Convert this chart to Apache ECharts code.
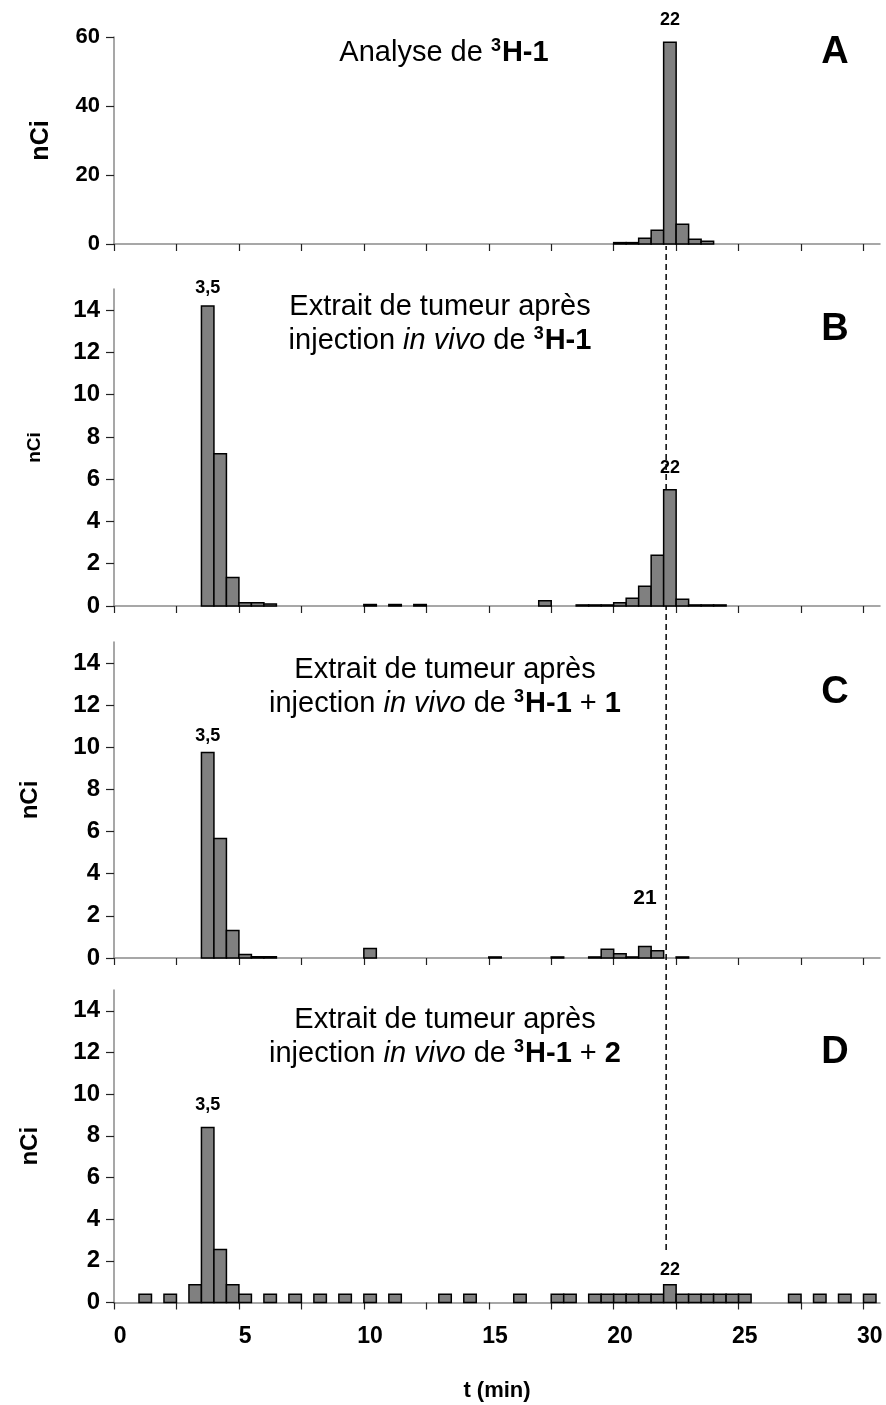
<!DOCTYPE html>
<html>
<head>
<meta charset="utf-8">
<script src="https://cdn.jsdelivr.net/npm/echarts@6/dist/echarts.min.js"></script>
<style>
  html, body { margin: 0; padding: 0; background: #fff; }
  #main { width: 886px; height: 1405px; }
</style>
</head>
<body>
<div id="main"></div>
<script>
// fractions de 0,5 min : chaque barre va de t a t + 0,5
var binWidth = 0.5;

// A : analyse de 3H-1
var timesA = [20, 20.5, 21, 21.5, 22, 22.5, 23, 23.5];
var valuesA = [0.4, 0.4, 1.7, 4.0, 58.5, 5.7, 1.4, 0.8];

// B : extrait de tumeur, 3H-1
var timesB = [3.5, 4, 4.5, 5, 5.5, 6, 10, 11, 12, 17, 18.5, 19, 19.5, 20, 20.5, 21, 21.5, 22, 22.5, 23, 23.5, 24];
var valuesB = [14.2, 7.2, 1.35, 0.15, 0.15, 0.1, 0.07, 0.07, 0.07, 0.25, 0.05, 0.05, 0.05, 0.15, 0.37, 0.94, 2.4, 5.5, 0.32, 0.05, 0.05, 0.05];

// C : extrait de tumeur, 3H-1 + 1
var timesC = [3.5, 4, 4.5, 5, 5.5, 6, 10, 15, 17.5, 19, 19.5, 20, 20.5, 21, 21.5, 22.5];
var valuesC = [9.75, 5.67, 1.31, 0.17, 0.06, 0.06, 0.45, 0.05, 0.05, 0.05, 0.41, 0.2, 0.05, 0.54, 0.35, 0.05];

// D : extrait de tumeur, 3H-1 + 2
var timesD = [1, 2, 3, 3.5, 4, 4.5, 5, 6, 7, 8, 9, 10, 11, 13, 14, 16, 17.5, 18, 19, 19.5, 20, 20.5, 21, 21.5, 22, 22.5, 23, 23.5, 24, 24.5, 25, 27, 28, 29, 30];
var valuesD = [0.4, 0.4, 0.85, 8.4, 2.55, 0.85, 0.4, 0.4, 0.4, 0.4, 0.4, 0.4, 0.4, 0.4, 0.4, 0.4, 0.4, 0.4, 0.4, 0.4, 0.4, 0.4, 0.4, 0.4, 0.85, 0.4, 0.4, 0.4, 0.4, 0.4, 0.4, 0.4, 0.4, 0.4, 0.4];

// pics annotes
var peaksA = [[22, '22']];
var peaksB = [[3.5, '3,5'], [22, '22']];
var peaksC = [[3.5, '3,5'], [21, '21']];
var peaksD = [[3.5, '3,5'], [22, '22']];

// axes
var xTicks = [0, 2.5, 5, 7.5, 10, 12.5, 15, 17.5, 20, 22.5, 25, 27.5, 30];
var xTickLabels = [0, 5, 10, 15, 20, 25, 30];
var yTicksA = [0, 20, 40, 60];
var yTicksBCD = [0, 2, 4, 6, 8, 10, 12, 14];
var refLineTime = 22.1;

var FONT = '"Liberation Sans", Arial, sans-serif';
var xMax = 30.66;

function pairs(times, values) {
	return times.map(function (t, i) { return [t, values[i]]; });
}

function renderBar(params, api) {
	var t = api.value(0), v = api.value(1);
	var p0 = api.coord([t, v]);
	var p1 = api.coord([t + binWidth, 0]);
	return {
		type: 'rect',
		shape: { x: p0[0], y: p0[1], width: p1[0] - p0[0], height: p1[1] - p0[1] },
		style: { fill: '#808080', stroke: '#000', lineWidth: 1.5 }
	};
}

// etiquette au-dessus du pic : gap (px) et taille par etiquette
function peakSeries(idx, peaks, times, values, gaps, sizes) {
	return {
		type: 'custom', xAxisIndex: idx, yAxisIndex: idx, silent: true, z: 5, clip: false,
		encode: { x: 0, y: 1 },
		data: peaks.map(function (p) { return [p[0] + binWidth / 2, values[times.indexOf(p[0])]]; }),
		renderItem: function (params, api) {
			var pt = api.coord([api.value(0), api.value(1)]);
			var i = params.dataIndex;
			return {
				type: 'text', x: pt[0], y: pt[1] - gaps[i],
				style: {
					text: peaks[i][1], fill: '#000', align: 'center', verticalAlign: 'bottom',
					font: 'bold ' + sizes[i] + 'px ' + FONT
				}
			};
		}
	};
}

var grids = [
	{ left: 114, width: 766, top: 37, height: 207 },
	{ left: 114, width: 766, top: 289, height: 317 },
	{ left: 114, width: 766, top: 642, height: 316 },
	{ left: 114, width: 766, top: 990, height: 312.5 },
	{ left: 114, width: 766, top: 246, height: 1004 }
];

function makeX(idx, withLabels) {
	return {
		type: 'value', gridIndex: idx, min: 0, max: xMax,
		axisLine: { lineStyle: { color: '#8a8a8a', width: 1.5 } },
		axisTick: { show: true, length: 7, customValues: xTicks, lineStyle: { color: '#222', width: 1.2 } },
		splitLine: { show: false },
		axisLabel: {
			show: withLabels,
			customValues: xTickLabels.map(function (v) { return v + binWidth / 2; }),
			formatter: function (v) { return String(Math.round(v - binWidth / 2)); },
			fontFamily: FONT, fontWeight: 'bold', fontSize: 23, color: '#000', margin: 23
		},
		name: withLabels ? 't (min)' : '',
		nameLocation: 'middle', nameGap: 77,
		nameTextStyle: { fontFamily: FONT, fontWeight: 'bold', fontSize: 22, color: '#000' }
	};
}

function makeY(idx, max, ticks, labelSize, nameSize, nameGap) {
	return {
		type: 'value', gridIndex: idx, min: 0, max: max,
		axisLine: { show: true, lineStyle: { color: '#8a8a8a', width: 1.5 } },
		axisTick: { show: true, length: 8, customValues: ticks, lineStyle: { color: '#222', width: 1.2 } },
		splitLine: { show: false },
		axisLabel: { customValues: ticks, fontFamily: FONT, fontWeight: 'bold', fontSize: labelSize, color: '#000', margin: 14 },
		name: 'nCi', nameLocation: 'middle', nameRotate: 90, nameGap: nameGap,
		nameTextStyle: { fontFamily: FONT, fontWeight: 'bold', fontSize: nameSize, color: '#000' }
	};
}

var titleStyle = {
	fontFamily: FONT, fontSize: 29, fontWeight: 'normal', color: '#000', lineHeight: 34,
	rich: {
		i: { fontFamily: FONT, fontSize: 29, fontStyle: 'italic', color: '#000', lineHeight: 34 },
		b: { fontFamily: FONT, fontSize: 29, fontWeight: 'bold', color: '#000', lineHeight: 34 },
		sup: { fontFamily: FONT, fontSize: 18, fontWeight: 'bold', color: '#000', lineHeight: 18, verticalAlign: 'top', padding: [1, 1, 0, 0] }
	}
};
var letterStyle = { fontFamily: FONT, fontSize: 38, fontWeight: 'bold', color: '#000' };

var myChart = echarts.init(document.getElementById('main'), null, { renderer: 'canvas' });

var option = {
	backgroundColor: '#fff',
	animation: false,
	title: [
		{ text: 'Analyse de {sup|3}{b|H-1}', left: 439, top: 31, textAlign: 'center', textStyle: titleStyle },
		{ text: 'Extrait de tumeur après\ninjection {i|in vivo} de {sup|3}{b|H-1}', left: 435, top: 285, textAlign: 'center', textStyle: titleStyle },
		{ text: 'Extrait de tumeur après\ninjection {i|in vivo} de {sup|3}{b|H-1} + {b|1}', left: 440, top: 648, textAlign: 'center', textStyle: titleStyle },
		{ text: 'Extrait de tumeur après\ninjection {i|in vivo} de {sup|3}{b|H-1} + {b|2}', left: 440, top: 998, textAlign: 'center', textStyle: titleStyle },
		{ text: 'A', left: 830, top: 29, textAlign: 'center', textStyle: letterStyle },
		{ text: 'B', left: 830, top: 306, textAlign: 'center', textStyle: letterStyle },
		{ text: 'C', left: 830, top: 669, textAlign: 'center', textStyle: letterStyle },
		{ text: 'D', left: 830, top: 1029, textAlign: 'center', textStyle: letterStyle }
	],
	grid: grids,
	xAxis: [
		makeX(0, false), makeX(1, false), makeX(2, false), makeX(3, true),
		{ type: 'value', gridIndex: 4, min: 0, max: xMax, show: false }
	],
	yAxis: [
		makeY(0, 60, yTicksA, 22, 25, 60),
		makeY(1, 15, yTicksBCD, 24, 19, 70),
		makeY(2, 15, yTicksBCD, 24, 24, 72),
		makeY(3, 15, yTicksBCD, 24, 24, 72),
		{ type: 'value', gridIndex: 4, min: 0, max: 1, show: false }
	],
	series: [
		{ type: 'custom', xAxisIndex: 0, yAxisIndex: 0, renderItem: renderBar, encode: { x: 0, y: 1 }, data: pairs(timesA, valuesA) },
		{ type: 'custom', xAxisIndex: 1, yAxisIndex: 1, renderItem: renderBar, encode: { x: 0, y: 1 }, data: pairs(timesB, valuesB) },
		{ type: 'custom', xAxisIndex: 2, yAxisIndex: 2, renderItem: renderBar, encode: { x: 0, y: 1 }, data: pairs(timesC, valuesC) },
		{ type: 'custom', xAxisIndex: 3, yAxisIndex: 3, renderItem: renderBar, encode: { x: 0, y: 1 }, data: pairs(timesD, valuesD) },
		peakSeries(0, peaksA, timesA, valuesA, [13], [18]),
		peakSeries(1, peaksB, timesB, valuesB, [9, 13], [18, 18]),
		peakSeries(2, peaksC, timesC, valuesC, [8, 38], [18, 21]),
		peakSeries(3, peaksD, timesD, valuesD, [13, 6], [18, 18]),
		{
			type: 'line', xAxisIndex: 4, yAxisIndex: 4, symbol: 'none', silent: true, z: 1,
			lineStyle: { color: '#000', width: 1.5, type: [6, 4] },
			data: [[refLineTime, 0], [refLineTime, 1]]
		}
	]
};
myChart.setOption(option);
</script>
</body>
</html>
